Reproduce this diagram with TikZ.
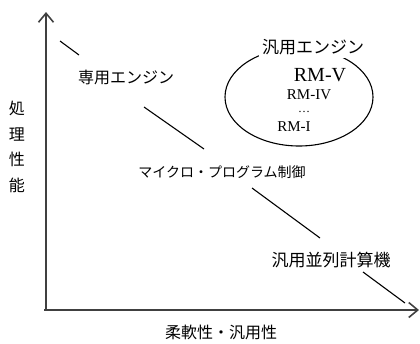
\documentclass[tikz,border=0pt]{standalone}
\usepackage{fontspec}
\setmainfont{Liberation Serif}
\newfontfamily\jp{Noto Sans CJK JP}
\usepackage{tikz}
\usetikzlibrary{shapes.geometric, positioning, arrows.meta}
\tikzset{jlabel/.style={
          inner sep=1pt,
          font=\jp\fontsize{16}{16}\selectfont
     }}
\tikzset{rmlabel/.style={
          inner sep=0pt,
          font=\fontsize{15}{15}\selectfont
     }}
\tikzset{trend/.style={
          line width=1.1pt
     }}
\tikzstyle{axis} = [line width=2.4pt, black!75, -{Straight Barb[length=9pt,width=15pt,line width=1.6pt]}]

\begin{document}
\begin{tikzpicture}[x=1pt,y=-1pt]
\useasboundingbox (0,0) rectangle (420,343);
% axes
\coordinate (origin) at (46,310);
\coordinate (ytip) at (46,12);
\coordinate (xtip) at (419,310);
\draw [axis] (origin) -- (ytip);
\draw [axis] (44,310) -- (xtip);

\node (perf) [jlabel, align=center, font=\jp\fontsize{16}{25.7}\selectfont] at (17,147) {処\\理\\性\\能};
\node (flex) [jlabel] at (221,332) {柔軟性・汎用性};

% points on the trend
\node (dedicated) [jlabel] at (126,77) {専用エンジン};
\node (micro) [jlabel, font=\jp\fontsize{14}{14}\selectfont] at (222,172) {マイクロ・プログラム制御};
\node (parallel) [jlabel, font=\jp\fontsize{17}{17}\selectfont] at (331,260) {汎用並列計算機};

\coordinate (s1a) at (60,41);   \coordinate (s1b) at (79,55);
\coordinate (s2a) at (144,107); \coordinate (s2b) at (204,149);
\coordinate (s3a) at (252,188); \coordinate (s3b) at (320,238);
\coordinate (s4a) at (363,272); \coordinate (s4b) at (405,303);
\draw [trend] (s1a) -- (s1b);
\draw [trend] (s2a) -- (s2b);
\draw [trend] (s3a) -- (s3b);
\draw [trend] (s4a) -- (s4b);

% general engine family
\node (family) [draw, ellipse, line width=1.1pt, minimum width=148pt, minimum height=98pt] at (299,97) {};
\node (general) [jlabel, fill=white, inner sep=3pt, font=\jp\fontsize{17}{17}\selectfont] at (313,47) {汎用エンジン};
\node (rm5) [rmlabel, font=\fontsize{20}{20}\selectfont] at (320,75) {RM-V};
\node (rm4) [rmlabel, text depth=0pt] at (309,95) {RM-IV};
\node (dots) [rmlabel, anchor=base, text height=2pt, text depth=0pt, font=\fontsize{12}{12}\selectfont] at (304,112) {\dots};
\node (rm1) [rmlabel] at (294,127) {RM-I};
\end{tikzpicture}
\end{document}
